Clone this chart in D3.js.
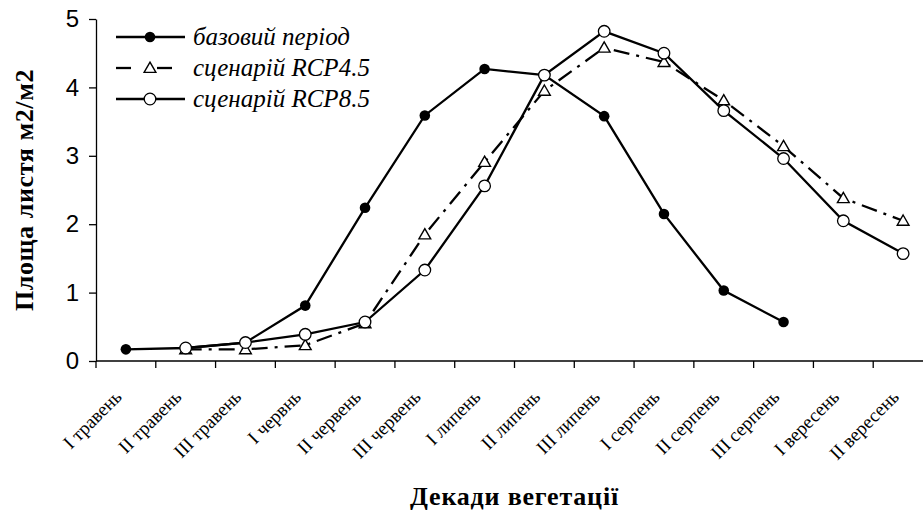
<!DOCTYPE html>
<html>
<head>
<meta charset="utf-8">
<script src="https://cdn.jsdelivr.net/npm/d3@7"></script>
<style>
  body { margin: 0; background: #fff; }
  svg { display: block; }
</style>
</head>
<body>
<div id="chart"></div>
<script>
// Data
const categories = [
  "I травень", "II травень", "III травень",
  "I червнь", "II червень", "III червень",
  "I липень", "II липень", "III липень",
  "I серпень", "II серпень", "III серпень",
  "I вересень", "II вересень"
];
const baseValues = [0.17, 0.19, 0.27, 0.81, 2.24, 3.59, 4.27, 4.18, 3.58, 2.15, 1.03, 0.57, null, null];
const rcp45Values = [null, 0.17, 0.17, 0.23, 0.55, 1.85, 2.91, 3.95, 4.58, 4.37, 3.81, 3.14, 2.38, 2.05];
const rcp85Values = [null, 0.19, 0.27, 0.39, 0.57, 1.33, 2.56, 4.18, 4.82, 4.5, 3.66, 2.96, 2.05, 1.57];
const yTicks = [0, 1, 2, 3, 4, 5];

const series = [
  { name: "базовий період", values: baseValues, marker: "dot", dash: null },
  { name: "сценарій RCP4.5", values: rcp45Values, marker: "triangle", dash: "16,7,3,7" },
  { name: "сценарій RCP8.5", values: rcp85Values, marker: "circle", dash: null }
];

const width = 923, height = 510;
const plotLeft = 96, plotRight = 933, plotTop = 19, plotBottom = 361;
const serif = "'Liberation Serif', 'Times New Roman', serif";

const svg = d3.select("#chart").append("svg")
  .attr("width", width).attr("height", height);

// Scales
const xScale = d3.scaleBand().domain(categories).range([plotLeft, plotRight]).padding(0);
const yScale = d3.scaleLinear().domain([0, 5]).range([plotBottom, plotTop]);
const cx = (i) => xScale(categories[i]) + xScale.bandwidth() / 2;

// Y axis
const yAxis = d3.axisLeft(yScale).tickValues(yTicks).tickFormat(d3.format("d"))
  .tickSize(7).tickSizeOuter(0).tickPadding(10);
const yAxisGroup = svg.append("g")
  .attr("transform", `translate(${plotLeft},0)`)
  .call(yAxis);
yAxisGroup.selectAll("text")
  .style("font-family", "'Liberation Sans', Arial, sans-serif")
  .style("font-size", "24px")
  .attr("fill", "#000");
yAxisGroup.selectAll("path, line").attr("stroke", "#000").attr("stroke-width", 1.3);

// X axis line
svg.append("line")
  .attr("x1", plotLeft).attr("x2", plotRight)
  .attr("y1", plotBottom).attr("y2", plotBottom)
  .attr("stroke", "#000").attr("stroke-width", 1.3);

// X ticks between categories
svg.append("g").selectAll("line")
  .data(categories)
  .enter()
  .append("line")
  .attr("x1", (d) => xScale(d)).attr("x2", (d) => xScale(d))
  .attr("y1", plotBottom).attr("y2", plotBottom + 7)
  .attr("stroke", "#000").attr("stroke-width", 1.3);

// X labels rotated
svg.append("g").selectAll("text")
  .data(categories)
  .enter()
  .append("text")
  .attr("transform", (d) => `translate(${xScale(d) + xScale.bandwidth() / 2 - 3},${plotBottom + 37}) rotate(-45)`)
  .attr("text-anchor", "end")
  .style("font-family", serif)
  .style("font-size", "19px")
  .text((d) => d);

// Axis titles
svg.append("text")
  .attr("transform", `translate(33,${(plotTop + plotBottom) / 2}) rotate(-90)`)
  .attr("text-anchor", "middle")
  .style("font-family", serif)
  .style("font-size", "26px")
  .style("font-weight", "bold")
  .style("letter-spacing", "0.6px")
  .text("Площа листя м2/м2");

svg.append("text")
  .attr("x", (plotLeft + plotRight) / 2).attr("y", 505)
  .attr("text-anchor", "middle")
  .style("font-family", serif)
  .style("font-size", "26px")
  .style("font-weight", "bold")
  .style("letter-spacing", "0.8px")
  .text("Декади вегетації");

// Lines
const line = d3.line()
  .defined((d) => d != null)
  .x((d, i) => cx(i))
  .y((d) => yScale(d));

series.forEach((s) => {
  svg.append("path")
    .datum(s.values)
    .attr("d", line)
    .attr("fill", "none")
    .attr("stroke", "#000")
    .attr("stroke-width", 2.3)
    .attr("stroke-dasharray", s.dash);
});

// Markers
const triangle = d3.symbol().type(d3.symbolTriangle).size(60);
function drawMarker(g, type, x, y) {
  if (type === "dot") {
    g.append("circle").attr("cx", x).attr("cy", y).attr("r", 5.3).attr("fill", "#000");
  } else if (type === "circle") {
    g.append("circle").attr("cx", x).attr("cy", y).attr("r", 5.8)
      .attr("fill", "#fff").attr("stroke", "#000").attr("stroke-width", 1.3);
  } else {
    g.append("path").attr("d", triangle)
      .attr("transform", `translate(${x},${y + 1})`)
      .attr("fill", "#fff").attr("stroke", "#000").attr("stroke-width", 1.4);
  }
}

const markerOrder = [series[1], series[0], series[2]];
markerOrder.forEach((s) => {
  const g = svg.append("g");
  s.values.forEach((v, i) => {
    if (v != null) drawMarker(g, s.marker, cx(i), yScale(v));
  });
});

// Legend
const legendY = [37, 68, 99];
series.forEach((s, i) => {
  const g = svg.append("g").attr("transform", `translate(0,${legendY[i]})`);
  if (s.dash) {
    g.append("line").attr("x1", 116).attr("x2", 131).attr("y1", 0).attr("y2", 0)
      .attr("stroke", "#000").attr("stroke-width", 2.3);
    g.append("line").attr("x1", 157).attr("x2", 172).attr("y1", 0).attr("y2", 0)
      .attr("stroke", "#000").attr("stroke-width", 2.3);
  } else {
    g.append("line").attr("x1", 116).attr("x2", 185).attr("y1", 0).attr("y2", 0)
      .attr("stroke", "#000").attr("stroke-width", 2.3);
  }
  drawMarker(g, s.marker, 150, 0);
  g.append("text")
    .attr("x", 193).attr("y", 8)
    .style("font-family", serif)
    .style("font-size", "25px")
    .style("font-style", "italic")
    .text(s.name);
});
</script>
</body>
</html>
